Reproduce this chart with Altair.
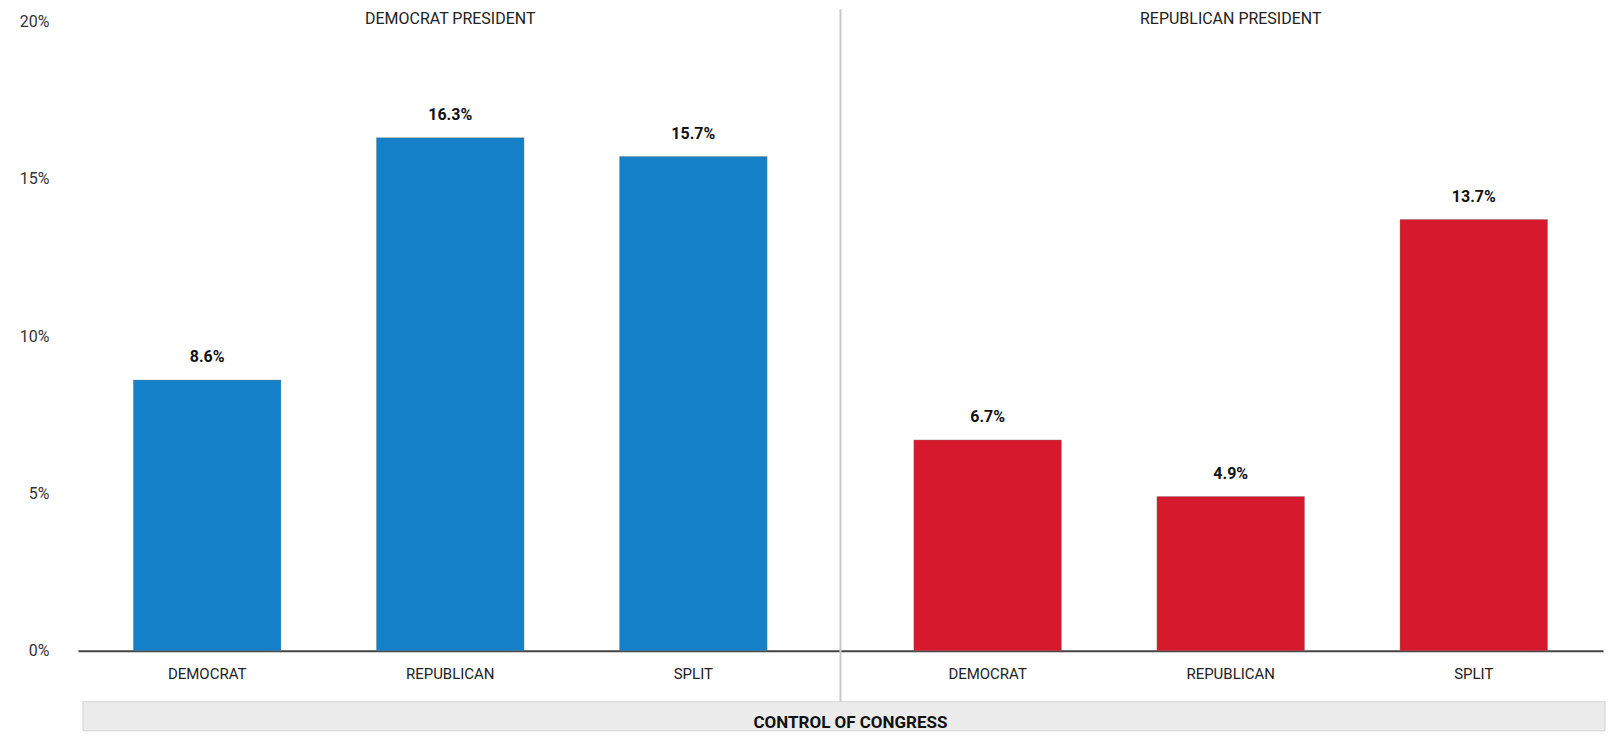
import altair as alt
import pandas as pd

# ---- data ----
presidents = ["DEMOCRAT PRESIDENT", "REPUBLICAN PRESIDENT"]
congress = ["DEMOCRAT", "REPUBLICAN", "SPLIT"]
dem_president_values = [8.6, 16.3, 15.7]
rep_president_values = [6.7, 4.9, 13.7]
y_ticks = [0, 5, 10, 15, 20]
footer_title = "CONTROL OF CONGRESS"

df = pd.DataFrame({
    "president": [presidents[0]] * 3 + [presidents[1]] * 3,
    "congress": congress * 2,
    "value": dem_president_values + rep_president_values,
})
df_pres = pd.DataFrame({"president": presidents})
one = pd.DataFrame({"k": [0]})

W, H = 1526, 630
FONT = "Roboto"
BLUE, RED = "#1380c8", "#d7192d"

x_enc = alt.X("president:N", sort=presidents,
              scale=alt.Scale(paddingInner=0.046, paddingOuter=0),
              axis=alt.Axis(labels=False, ticks=False, domain=True,
                            domainColor="#444", domainWidth=2,
                            title=None, grid=False))
xo_enc = alt.XOffset("congress:N", sort=congress,
                     scale=alt.Scale(paddingInner=0.393, paddingOuter=0.228))
y_enc = alt.Y("value:Q", scale=alt.Scale(domain=[0, 20], nice=False),
              axis=alt.Axis(values=y_ticks, labelExpr="datum.value + '%'",
                            domain=False, ticks=False, grid=False,
                            labelPadding=29, labelFontSize=16,
                            labelColor="#333", labelFont=FONT, title=None))

base = alt.Chart(df)

bars = base.mark_bar(stroke="#777", strokeWidth=0.6, strokeOpacity=0.6).encode(
    x=x_enc, xOffset=xo_enc, y=y_enc,
    color=alt.Color("president:N", sort=presidents,
                    scale=alt.Scale(domain=presidents, range=[BLUE, RED]),
                    legend=None),
)

value_labels = base.transform_calculate(
    label="format(datum.value, '.1f') + '%'"
).mark_text(dy=-23, font=FONT, fontSize=16, fontWeight="bold",
            color="#111", baseline="middle").encode(
    x=x_enc, xOffset=xo_enc, y=y_enc, text="label:N"
)

congress_labels = base.mark_text(font=FONT, fontSize=15, color="#222",
                                 baseline="middle").encode(
    x=x_enc, xOffset=xo_enc, y=alt.value(H + 23.5), text="congress:N"
)

headers = alt.Chart(df_pres).mark_text(font=FONT, fontSize=16, color="#222",
                                       baseline="middle").encode(
    x=x_enc, y=alt.value(-2.5), text="president:N"
)

divider = alt.Chart(one).mark_rule(color="#c8c8c8", strokeWidth=2).encode(
    x=alt.value(763), y=alt.value(-12), y2=alt.value(681)
)

footer_box = alt.Chart(one).mark_rect(fill="#ebebeb", stroke="#d4d4d4",
                                      strokeWidth=1).encode(
    x=alt.value(5), x2=alt.value(W + 2), y=alt.value(681), y2=alt.value(710)
)

footer_text = alt.Chart(one).mark_text(font=FONT, fontSize=17, fontWeight="bold",
                                       color="#111", baseline="middle").encode(
    x=alt.value(773), y=alt.value(702), text=alt.value(footer_title)
)

chart = alt.layer(
    footer_box, divider, bars, value_labels, congress_labels, headers, footer_text
).properties(
    width=W, height=H, background="white",
    padding={"left": 11, "top": 0, "right": 0, "bottom": 0},
).configure_view(stroke=None)

chart.save("out.html", embed_options={"renderer": "svg", "actions": False})
